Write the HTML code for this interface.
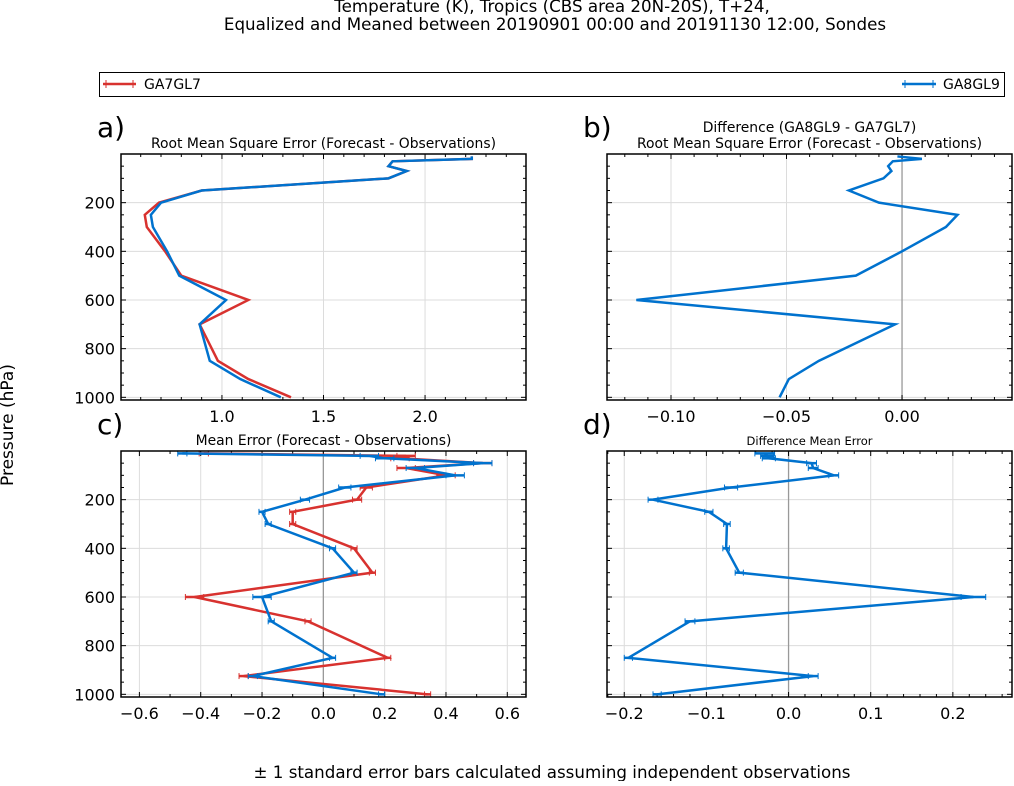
<!DOCTYPE html>
<html><head><meta charset="utf-8">
<style>
body{margin:0;background:#fff;font-family:"Liberation Sans","DejaVu Sans",sans-serif;}
svg text{font-family:"DejaVu Sans","Liberation Sans",sans-serif;fill:#000;}
</style></head>
<body>
<svg id="fig" width="1014" height="781" xmlns="http://www.w3.org/2000/svg">
<text x="552" y="12" font-size="16.7" text-anchor="middle">Temperature (K), Tropics (CBS area 20N-20S), T+24,</text>
<text x="555" y="30" font-size="16.7" text-anchor="middle">Equalized and Meaned between 20190901 00:00 and 20191130 12:00, Sondes</text>
<g>
<rect x="99.5" y="72.5" width="905" height="24" fill="#fff" stroke="#000" stroke-width="1"/>
<g>
<line x1="103" y1="84" x2="136" y2="84" stroke="#d8322f" stroke-width="2.5"/>
<line x1="106" y1="80" x2="106" y2="88" stroke="#d8322f" stroke-width="1"/><line x1="133" y1="80" x2="133" y2="88" stroke="#d8322f" stroke-width="1"/>
<text x="144" y="89" font-size="14">GA7GL7</text></g>
<g>
<line x1="902" y1="84" x2="936" y2="84" stroke="#0072ce" stroke-width="2.5"/>
<line x1="905" y1="80" x2="905" y2="88" stroke="#0072ce" stroke-width="1"/><line x1="933" y1="80" x2="933" y2="88" stroke="#0072ce" stroke-width="1"/>
<text x="943" y="89" font-size="14">GA8GL9</text></g>
</g>
<text transform="translate(13,425) rotate(-90)" font-size="17" text-anchor="middle">Pressure (hPa)</text>
<text x="552" y="778" font-size="16.7" text-anchor="middle">± 1 standard error bars calculated assuming independent observations</text>
</svg>
<script>
const levels=[10,20,30,50,70,100,150,200,250,300,400,500,600,700,850,925,1000];
const rmseRed=[2.23,2.23,1.84,1.82,1.91,1.82,0.90,0.69,0.62,0.63,0.72,0.80,1.13,0.89,0.98,1.13,1.34];
const rmseBlue=[2.23,2.23,1.84,1.82,1.91,1.82,0.90,0.70,0.65,0.66,0.73,0.79,1.02,0.89,0.94,1.09,1.29];
const rmseDiff=[-0.002,0.0086,-0.004,-0.006,-0.0046,-0.008,-0.023,-0.010,0.024,0.019,0.0,-0.020,-0.115,-0.003,-0.036,-0.049,-0.053];
const meRed=[-0.39,0.27,0.25,0.52,0.27,0.40,0.14,0.11,-0.10,-0.10,0.10,0.16,-0.42,-0.05,0.21,-0.26,0.34];
const meBlue=[-0.46,0.15,0.20,0.52,0.30,0.43,0.07,-0.06,-0.20,-0.18,0.03,0.10,-0.20,-0.17,0.03,-0.23,0.19];
const meErr=[0.015,0.03,0.03,0.03,0.03,0.03,0.02,0.015,0.01,0.01,0.01,0.01,0.03,0.01,0.01,0.015,0.01];
const meDiff=[-0.029,-0.026,-0.024,0.028,0.030,0.055,-0.070,-0.165,-0.097,-0.075,-0.076,-0.060,0.225,-0.120,-0.195,0.030,-0.160];
const diffErr=[0.012,0.008,0.008,0.006,0.006,0.006,0.008,0.006,0.005,0.004,0.004,0.005,0.015,0.006,0.005,0.006,0.005];
const yTicks=[200,400,600,800,1000];
const RED="#d8322f",BLUE="#0072ce";
const NS="http://www.w3.org/2000/svg";
const fig=document.getElementById('fig');
function mk(tag,attrs,parent){const e=document.createElementNS(NS,tag);for(const k in attrs)e.setAttribute(k,attrs[k]);(parent||fig).appendChild(e);return e;}
function panel(o){
  const g=mk('g',{});
  
  
  const X=v=>o.x0+(v-o.xmin)/(o.xmax-o.xmin)*(o.x1-o.x0);
  const Y=p=>o.y0+(p-0)/1011*(o.y1-o.y0);
  o.xTicks.forEach(t=>{mk('line',{x1:X(t),x2:X(t),y1:o.y0,y2:o.y1,stroke:'#dcdcdc','stroke-width':1},g);});
  yTicks.forEach(t=>{mk('line',{x1:o.x0,x2:o.x1,y1:Y(t),y2:Y(t),stroke:'#dcdcdc','stroke-width':1},g);});
  if(o.zero) mk('line',{x1:X(0),x2:X(0),y1:o.y0,y2:o.y1,stroke:'#999','stroke-width':1.3},g);
  for(let p=50;p<=1000;p+=50){const maj=p%200===0;const L=maj?5:3;
    mk('line',{x1:o.x0,x2:o.x0+L,y1:Y(p),y2:Y(p),stroke:'#000'},g);
    mk('line',{x1:o.x1,x2:o.x1-L,y1:Y(p),y2:Y(p),stroke:'#000'},g);}
  const step=o.minor;
  for(let v=Math.ceil(o.xmin/step)*step;v<=o.xmax+1e-9;v+=step){
    const maj=o.xTicks.some(t=>Math.abs(t-v)<1e-6);const L=maj?5:3;
    mk('line',{x1:X(v),x2:X(v),y1:o.y1,y2:o.y1-L,stroke:'#000'},g);
    mk('line',{x1:X(v),x2:X(v),y1:o.y0,y2:o.y0+L,stroke:'#000'},g);}
  o.xTicks.forEach((t,i)=>{const tx=mk('text',{x:X(t),y:o.y1+22,'font-size':16,'text-anchor':'middle'},g);tx.textContent=o.xLabels[i];
    
    });
  if(o.yLabels) yTicks.forEach(t=>{const tx=mk('text',{x:o.x0-6,y:Y(t)+6,'font-size':16,'text-anchor':'end'},g);tx.textContent=String(t);
    
    });
  o.series.forEach(s=>{
    const pts=s.vals.map((v,i)=>X(v)+','+Y(levels[i])).join(' ');
    const pl=mk('polyline',{points:pts,fill:'none',stroke:s.color,'stroke-width':2.5,'stroke-linejoin':'miter'},g);
    
    
    if(s.err) s.vals.forEach((v,i)=>{const y=Y(levels[i]),a=X(v-s.err[i]),b=X(v+s.err[i]);
      mk('line',{x1:a,x2:b,y1:y,y2:y,stroke:s.color,'stroke-width':2.5},g);
      mk('line',{x1:a,x2:a,y1:y-3,y2:y+3,stroke:s.color,'stroke-width':1},g);
      mk('line',{x1:b,x2:b,y1:y-3,y2:y+3,stroke:s.color,'stroke-width':1},g);});
  });
  const fr=mk('rect',{x:o.x0,y:o.y0,width:o.x1-o.x0,height:o.y1-o.y0,fill:'none',stroke:'#000','stroke-width':1.5},g);
  
  
  const lb=mk('text',{x:o.x0-24,y:o.y0-17,'font-size':28},g);lb.textContent=o.label;
  
  
  o.sub.forEach((s,i)=>{const t=mk('text',{x:(o.x0+o.x1)/2,y:o.y0-6-(o.sub.length-1-i)*16,'font-size':o.subSize||13.9,'text-anchor':'middle'},g);t.textContent=s;
    
    });
}
panel({name:'panel-a-rmse',x0:121,x1:526,y0:154,y1:400,xmin:0.503,xmax:2.497,xTicks:[1.0,1.5,2.0],xLabels:['1.0','1.5','2.0'],minor:0.1,yLabels:true,label:'a)',sub:['Root Mean Square Error (Forecast - Observations)'],
  series:[{name:'rmse-ga7gl7-line',vals:rmseRed,color:RED},{name:'rmse-ga8gl9-line',vals:rmseBlue,color:BLUE}]});
panel({name:'panel-b-rmse-diff',x0:607,x1:1012,y0:154,y1:400,xmin:-0.1277,xmax:0.0476,xTicks:[-0.1,-0.05,0],xLabels:['\u22120.10','\u22120.05','0.00'],minor:0.01,zero:true,label:'b)',sub:['Difference (GA8GL9 - GA7GL7)','Root Mean Square Error (Forecast - Observations)'],
  series:[{name:'rmse-diff-line',vals:rmseDiff,color:BLUE}]});
panel({name:'panel-c-mean-error',x0:121,x1:526,y0:451,y1:697,xmin:-0.66,xmax:0.661,xTicks:[-0.6,-0.4,-0.2,0,0.2,0.4,0.6],xLabels:['\u22120.6','\u22120.4','\u22120.2','0.0','0.2','0.4','0.6'],minor:0.1,zero:true,yLabels:true,label:'c)',sub:['Mean Error (Forecast - Observations)'],
  series:[{name:'me-ga7gl7-line',vals:meRed,color:RED,err:meErr},{name:'me-ga8gl9-line',vals:meBlue,color:BLUE,err:meErr}]});
panel({name:'panel-d-mean-error-diff',x0:607,x1:1012,y0:451,y1:697,xmin:-0.221,xmax:0.272,xTicks:[-0.2,-0.1,0,0.1,0.2],xLabels:['\u22120.2','\u22120.1','0.0','0.1','0.2'],minor:0.02,zero:true,label:'d)',subSize:11.5,sub:['Difference  Mean Error'],
  series:[{name:'me-diff-line',vals:meDiff,color:BLUE,err:diffErr}]});
</script>
</body></html>
